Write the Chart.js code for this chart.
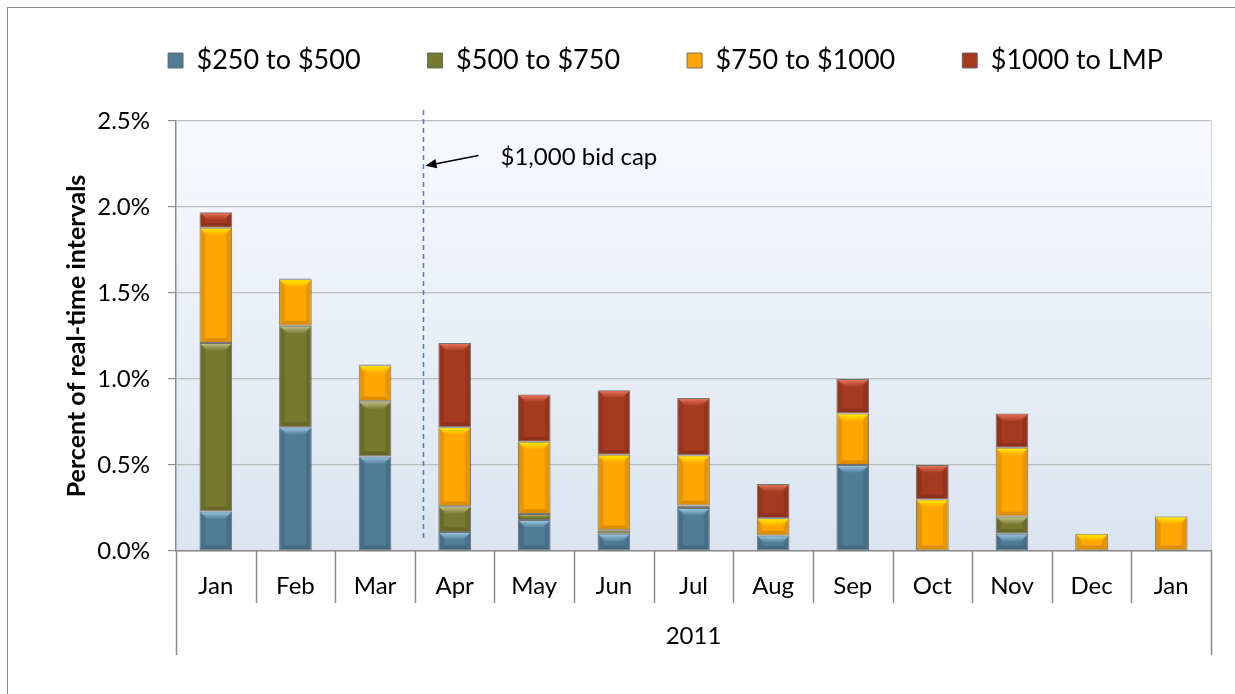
<!DOCTYPE html>
<html>
<head>
<meta charset="utf-8">
<title>Bids above $250</title>
<script src="https://cdn.jsdelivr.net/npm/chart.js@4.4.0/dist/chart.umd.min.js"></script>
<style>
  body { margin: 0; background: #fff; }
  #wrap { width: 1235px; height: 694px; }
</style>
</head>
<body>
<div id="wrap"><canvas id="chart" width="1235" height="694"></canvas></div>
<script>
// values in percent of real-time intervals
var months = ["Jan", "Feb", "Mar", "Apr", "May", "Jun", "Jul", "Aug", "Sep", "Oct", "Nov", "Dec", "Jan"];
var yearLabel = "2011";
var band250to500 = [0.23, 0.72, 0.55, 0.11, 0.18, 0.10, 0.25, 0.09, 0.50, 0, 0.10, 0, 0];
var band500to750 = [0.98, 0.59, 0.32, 0.15, 0.035, 0.02, 0.015, 0, 0, 0, 0.10, 0, 0];
var band750to1000 = [0.67, 0.27, 0.21, 0.46, 0.42, 0.44, 0.29, 0.10, 0.30, 0.30, 0.40, 0.10, 0.20];
var band1000toLMP = [0.09, 0.005, 0.005, 0.49, 0.275, 0.375, 0.335, 0.20, 0.20, 0.20, 0.20, 0, 0];
var seriesNames = ["$250 to $500", "$500 to $750", "$750 to $1000", "$1000 to LMP"];
var yTicks = [0, 0.5, 1.0, 1.5, 2.0, 2.5];

var fills = ["#507c98", "#77792f", "#ffa600", "#a63a21"];
var lights = ["#9ccbe6", "#c4c48e", "#fff000", "#ee7a5e"];
var FONT = "Lato, 'Liberation Sans', sans-serif";

function ds(i, vals) {
  return {
    label: seriesNames[i],
    data: vals,
    backgroundColor: fills[i],
    borderColor: "rgba(95,95,95,0.85)",
    borderWidth: function (c) { return c.raw > 0 ? 1 : 0; },
    borderSkipped: false,
    barPercentage: 0.41,
    categoryPercentage: 1.0
  };
}

// plot background + outer frame
var frame = {
  id: "frame",
  afterInit: function (chart) {
    // legend band takes the whole strip above the plot
    var lg = chart.legend, fit = lg.fit;
    lg.fit = function () { fit.call(this); this.height = 121; };
  },
  afterLayout: function (chart) {
    var lg = chart.legend;
    lg.left += 50; lg.right += 50;
    lg.top -= 20; lg.bottom -= 20;
  },
  beforeDraw: function (chart) {
    var ctx = chart.ctx, a = chart.chartArea;
    ctx.save();
    ctx.fillStyle = "#fff";
    ctx.fillRect(0, 0, chart.width, chart.height);
    ctx.strokeStyle = "#8c8c8c";
    ctx.lineWidth = 1;
    ctx.strokeRect(7.5, 7.5, 1400, 900);
    var g = ctx.createLinearGradient(0, a.top, 0, a.bottom);
    g.addColorStop(0, "#f8fafd");
    g.addColorStop(1, "#dbe4f0");
    ctx.fillStyle = g;
    ctx.fillRect(a.left, a.top, a.right - a.left, a.bottom - a.top);
    ctx.strokeStyle = "#d0d5db";
    ctx.beginPath();
    ctx.moveTo(a.right + 0.5, a.top);
    ctx.lineTo(a.right + 0.5, a.bottom);
    ctx.stroke();
    ctx.restore();
  }
};

// bevelled look on each bar segment
var bevel = {
  id: "bevel",
  afterDatasetsDraw: function (chart) {
    var ctx = chart.ctx;
    chart.data.datasets.forEach(function (d, i) {
      var meta = chart.getDatasetMeta(i);
      meta.data.forEach(function (bar) {
        var p = bar.getProps(["x", "y", "base", "width"], true);
        var t = Math.min(p.y, p.base), bt = Math.max(p.y, p.base), h = bt - t;
        if (h < 3) return;
        var l = p.x - p.width / 2 + 1, r = p.x + p.width / 2 - 1;
        var b = Math.min(8, h / 2);
        ctx.save();
        var g = ctx.createLinearGradient(0, t, 0, t + b);
        g.addColorStop(0, lights[i]);
        g.addColorStop(1, fills[i]);
        ctx.fillStyle = g;
        ctx.beginPath();
        ctx.moveTo(l, t + 1); ctx.lineTo(r, t + 1);
        ctx.lineTo(r - b, t + b); ctx.lineTo(l + b, t + b);
        ctx.closePath(); ctx.fill();
        // darker sides and bottom
        ctx.fillStyle = "rgba(0,0,0,0.10)";
        ctx.beginPath();
        ctx.moveTo(l, t + 1); ctx.lineTo(l + b * 0.6, t + b); ctx.lineTo(l + b * 0.6, bt - b * 0.6); ctx.lineTo(l, bt - 1);
        ctx.closePath(); ctx.fill();
        ctx.beginPath();
        ctx.moveTo(r, t + 1); ctx.lineTo(r - b * 0.6, t + b); ctx.lineTo(r - b * 0.6, bt - b * 0.6); ctx.lineTo(r, bt - 1);
        ctx.closePath(); ctx.fill();
        ctx.fillStyle = "rgba(0,0,0,0.14)";
        ctx.beginPath();
        ctx.moveTo(l, bt - 1); ctx.lineTo(r, bt - 1); ctx.lineTo(r - b * 0.6, bt - b * 0.6); ctx.lineTo(l + b * 0.6, bt - b * 0.6);
        ctx.closePath(); ctx.fill();
        ctx.restore();
      });
    });
  }
};

// category separators, year bracket, bid cap marker
var extras = {
  id: "extras",
  afterDraw: function (chart) {
    var ctx = chart.ctx, a = chart.chartArea;
    var x = chart.scales.x, y = chart.scales.y;
    var step = x.getPixelForValue(1) - x.getPixelForValue(0);
    ctx.save();
    ctx.strokeStyle = "#8c8c8c";
    ctx.lineWidth = 1.5;
    ctx.beginPath();
    for (var i = 1; i < months.length; i++) {
      var px = Math.round(x.getPixelForValue(i) - step / 2) + 0.5;
      ctx.moveTo(px, a.bottom); ctx.lineTo(px, a.bottom + 52);
    }
    ctx.moveTo(a.left + 0.5, a.bottom); ctx.lineTo(a.left + 0.5, a.bottom + 104);
    ctx.moveTo(a.right + 0.5, a.bottom); ctx.lineTo(a.right + 0.5, a.bottom + 104);
    ctx.stroke();

    ctx.fillStyle = "#000";
    ctx.font = "24px " + FONT;
    ctx.textAlign = "center";
    ctx.textBaseline = "middle";
    ctx.fillText(yearLabel, (a.left + a.right) / 2, a.bottom + 85);

    // $1,000 bid cap just after the Mar/Apr boundary
    var cx = Math.round(x.getPixelForValue(2) + step * 0.6) + 0.5;
    ctx.strokeStyle = "#4a7ebb";
    ctx.lineWidth = 1.5;
    ctx.setLineDash([5, 4]);
    ctx.beginPath();
    ctx.moveTo(cx, a.top - 11);
    ctx.lineTo(cx, y.getPixelForValue(0.06));
    ctx.stroke();
    ctx.setLineDash([]);

    var tipX = cx + 2, tipY = y.getPixelForValue(2.24);
    var tailX = cx + 55, tailY = y.getPixelForValue(2.30);
    ctx.strokeStyle = "#000";
    ctx.lineWidth = 1.5;
    ctx.beginPath();
    ctx.moveTo(tailX, tailY); ctx.lineTo(tipX + 8, tipY - 1.5);
    ctx.stroke();
    var ang = Math.atan2(tipY - tailY, tipX - tailX);
    ctx.fillStyle = "#000";
    ctx.beginPath();
    ctx.moveTo(tipX, tipY);
    ctx.lineTo(tipX - 12 * Math.cos(ang - 0.4), tipY - 12 * Math.sin(ang - 0.4));
    ctx.lineTo(tipX - 12 * Math.cos(ang + 0.4), tipY - 12 * Math.sin(ang + 0.4));
    ctx.closePath(); ctx.fill();
    ctx.font = "24px " + FONT;
    ctx.textAlign = "left";
    ctx.fillText("$1,000 bid cap", cx + 77, y.getPixelForValue(2.29));
    ctx.restore();
  }
};

new Chart(document.getElementById("chart"), {
  type: "bar",
  data: {
    labels: months,
    datasets: [ds(0, band250to500), ds(1, band500to750), ds(2, band750to1000), ds(3, band1000toLMP)]
  },
  plugins: [frame, bevel, extras],
  options: {
    responsive: false,
    animation: false,
    devicePixelRatio: 1,
    layout: { padding: { left: 20, right: 24, top: 0, bottom: 0 } },
    plugins: {
      legend: {
        position: "top",
        fullSize: true,
        labels: {
          color: "#000",
          font: { family: FONT, size: 27 },
          boxWidth: 15,
          boxHeight: 15,
          padding: 67
        }
      },
      tooltip: { enabled: false }
    },
    scales: {
      x: {
        stacked: true,
        grid: { display: false, drawTicks: false },
        border: { display: true, color: "#8c8c8c", width: 1.5 },
        ticks: { color: "#000", font: { family: FONT, size: 24 }, padding: 21, maxRotation: 0, autoSkip: false },
        afterFit: function (s) { s.height = 694 - 551; }
      },
      y: {
        stacked: true,
        min: 0,
        max: 2.5,
        afterBuildTicks: function (s) { s.ticks = yTicks.map(function (v) { return { value: v }; }); },
        grid: { color: "#bcbcbc", lineWidth: 1.2, tickLength: 8, tickColor: "#8c8c8c" },
        border: { display: true, color: "#8c8c8c", width: 1.5 },
        ticks: {
          color: "#000",
          font: { family: FONT, size: 24 },
          padding: 18,
          callback: function (v) { return v.toFixed(1) + "%"; }
        },
        title: {
          display: true,
          text: "Percent of real-time intervals",
          color: "#000",
          font: { family: FONT, size: 25, weight: "bold" },
          padding: { top: 42, bottom: 0 }
        },
        afterFit: function (s) { s.width = 176 - 20; }
      }
    }
  }
});
</script>
</body>
</html>
